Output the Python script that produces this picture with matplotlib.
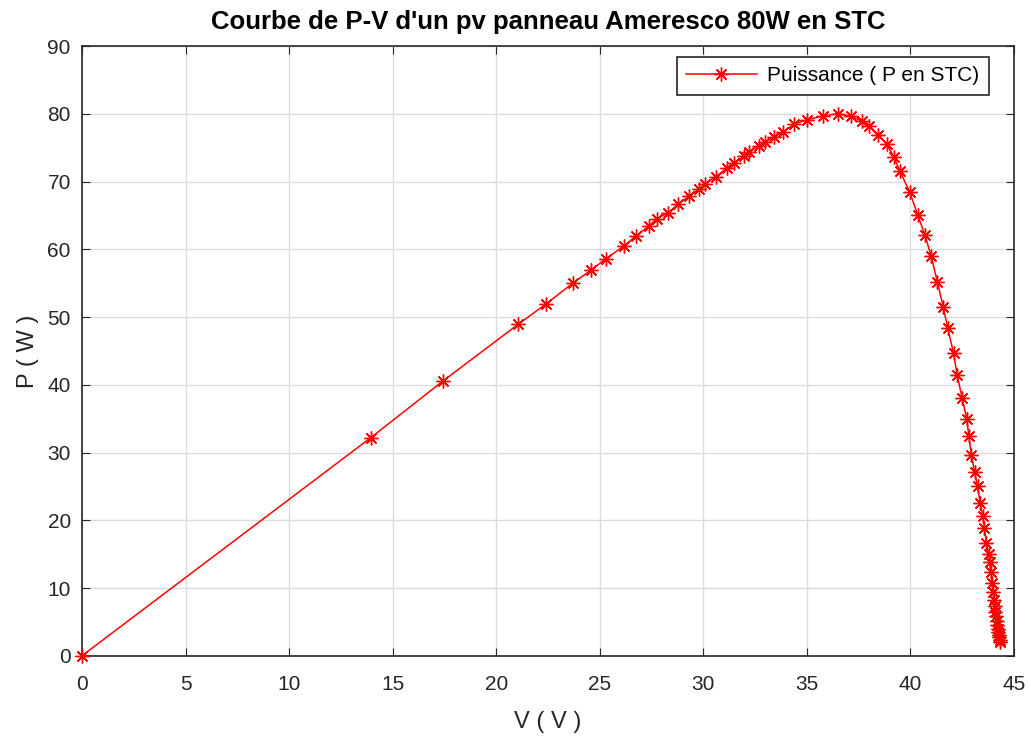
import matplotlib.pyplot as plt

plt.rcParams['font.family'] = ['Liberation Sans', 'DejaVu Sans']

# Tension (V) et puissance (W) du panneau Ameresco 80W en STC
tension = [0.0, 13.95, 17.45, 21.05, 22.42, 23.70, 24.57, 25.30, 26.18, 26.76,
           27.36, 27.76, 28.30, 28.80, 29.30, 29.80, 30.10, 30.60, 31.14, 31.50,
           31.95, 32.20, 32.70, 33.00, 33.40, 33.85, 34.40, 35.00, 35.80, 36.50,
           37.15, 37.68, 38.00, 38.45, 38.87, 39.20, 39.48, 39.97, 40.36, 40.70,
           41.00, 41.30, 41.58, 41.80, 42.08, 42.25, 42.50, 42.72, 42.82, 42.94,
           43.10, 43.24, 43.37, 43.49, 43.57, 43.67, 43.77, 43.84, 43.88, 43.94,
           43.99, 44.03, 44.07, 44.10, 44.14, 44.17, 44.20, 44.22, 44.25, 44.27,
           44.29, 44.31, 44.33]
puissance = [0.0, 32.2, 40.6, 48.9, 51.95, 55.0, 56.9, 58.6, 60.5, 62.0,
             63.4, 64.5, 65.4, 66.7, 67.8, 68.9, 69.7, 70.7, 72.0, 72.8,
             73.7, 74.4, 75.3, 75.9, 76.5, 77.3, 78.5, 79.1, 79.7, 80.0,
             79.6, 78.9, 78.2, 76.9, 75.5, 73.6, 71.6, 68.4, 65.0, 62.1,
             59.0, 55.2, 51.5, 48.4, 44.7, 41.5, 38.0, 35.0, 32.4, 29.7,
             27.1, 25.0, 22.5, 20.6, 18.9, 16.7, 15.0, 13.8, 12.3, 10.8,
             9.4, 8.2, 7.3, 6.5, 5.8, 5.1, 4.5, 4.0, 3.5, 3.1,
             2.7, 2.4, 2.1]

fig = plt.figure(figsize=(10.31, 7.36), dpi=100)
ax = fig.add_axes([0.0795, 0.109, 0.904, 0.8285])

ax.plot(tension, puissance, color='red', linewidth=1.1, marker=(8, 2, 0),
        markersize=10, markeredgewidth=1.0, label='Puissance ( P en STC)',
        clip_on=False, zorder=3)

ax.set_xlim(0, 45)
ax.set_ylim(0, 90)
ax.set_xticks(range(0, 46, 5))
ax.set_yticks(range(0, 91, 10))
ax.grid(True, color='#dcdcdc', linewidth=1)
ax.tick_params(direction='in', length=6, labelsize=15, colors='#262626',
               top=True, right=True)
ax.tick_params(axis='x', pad=14)
ax.tick_params(axis='y', pad=8)
for s in ax.spines.values():
    s.set_color('#262626')
    s.set_linewidth(1.2)

ax.set_title("Courbe de P-V d'un pv panneau Ameresco 80W en STC",
             fontsize=18.5, fontweight='bold', pad=12)
ax.set_xlabel('V ( V )', fontsize=17, color='#262626', labelpad=12)
ax.set_ylabel('P ( W )', fontsize=17, color='#262626', labelpad=6)

leg = ax.legend(loc='upper right', fontsize=15, fancybox=False,
                framealpha=1, edgecolor='#262626', borderpad=0.45,
                handlelength=3.4, handletextpad=0.5, borderaxespad=0,
                bbox_to_anchor=(0.973, 0.982))
leg.get_frame().set_linewidth(1.2)

fig.savefig('out.png', dpi=100)
